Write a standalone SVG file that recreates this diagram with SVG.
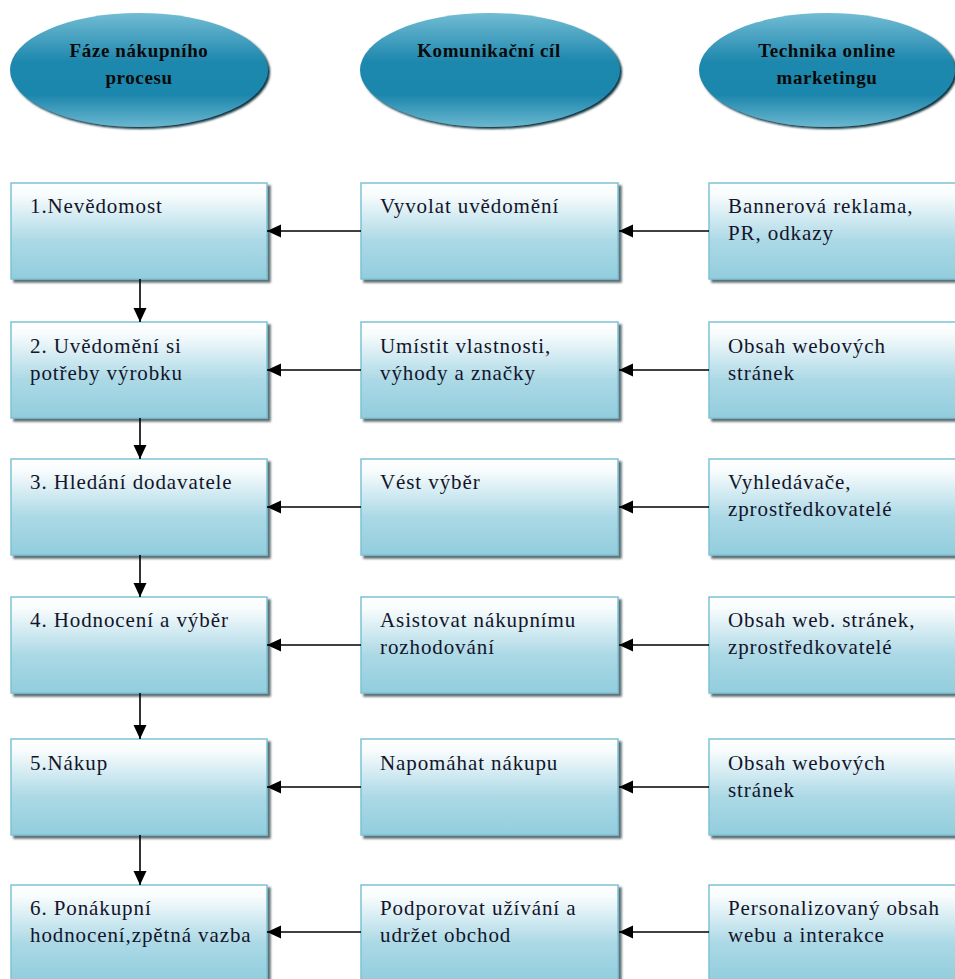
<svg xmlns="http://www.w3.org/2000/svg" width="955" height="979" viewBox="0 0 955 979">
<defs>
<linearGradient id="boxg" x1="0" y1="0" x2="0" y2="1">
<stop offset="0" stop-color="#ffffff"/>
<stop offset="0.12" stop-color="#f8fcfd"/>
<stop offset="0.6" stop-color="#acd9e6"/>
<stop offset="1" stop-color="#92cddd"/>
</linearGradient>
<linearGradient id="ellg" x1="0" y1="0" x2="0" y2="1">
<stop offset="0" stop-color="#72bcd3"/>
<stop offset="0.42" stop-color="#1f88ae"/>
<stop offset="0.72" stop-color="#1e87ad"/>
<stop offset="1" stop-color="#6ab7cf"/>
</linearGradient>
<filter id="shadow" x="-5%" y="-5%" width="115%" height="120%">
<feGaussianBlur in="SourceAlpha" stdDeviation="0.8"/>
<feOffset dx="3" dy="3" result="b"/>
<feFlood flood-color="#55666c" flood-opacity="0.95"/>
<feComposite in2="b" operator="in" result="s"/>
<feMerge><feMergeNode in="s"/><feMergeNode in="SourceGraphic"/></feMerge>
</filter>
<filter id="eshadow" x="-5%" y="-5%" width="115%" height="120%">
<feGaussianBlur in="SourceAlpha" stdDeviation="0.8"/>
<feOffset dx="2" dy="2" result="b"/>
<feFlood flood-color="#0a2f3c" flood-opacity="1"/>
<feComposite in2="b" operator="in" result="s"/>
<feMerge><feMergeNode in="s"/><feMergeNode in="SourceGraphic"/></feMerge>
</filter>
<marker id="ah" markerUnits="userSpaceOnUse" markerWidth="15" markerHeight="14" refX="14" refY="6.5" orient="auto">
<path d="M0,0 L14,6.5 L0,13 z" fill="#000"/>
</marker>
</defs>
<style>
.box{fill:url(#boxg);stroke:#7ec2d5;stroke-width:1.5}
.ell{fill:url(#ellg)}
.t{font-family:"Liberation Serif","Times New Roman",serif;font-size:21px;letter-spacing:0.9px;fill:#14142a}
.h{font-family:"Liberation Serif","Times New Roman",serif;font-size:19px;letter-spacing:0.6px;font-weight:bold;fill:#0a0a0a;text-anchor:middle}
.c{stroke:#000;stroke-width:1.6;fill:none;marker-end:url(#ah)}
</style>
<rect width="955" height="979" fill="#ffffff"/>

<g id="head1" filter="url(#eshadow)"><ellipse class="ell" cx="139" cy="70" rx="129" ry="57"/></g>
<text class="h" x="139" y="57">Fáze nákupního</text>
<text class="h" x="139" y="84">procesu</text>
<g id="head2" filter="url(#eshadow)"><ellipse class="ell" cx="490" cy="70" rx="130" ry="57"/></g>
<text class="h" x="489" y="57">Komunikační cíl</text>
<g id="head3" filter="url(#eshadow)"><ellipse class="ell" cx="827" cy="70" rx="128" ry="57"/></g>
<text class="h" x="827" y="57">Technika online</text>
<text class="h" x="827" y="84">marketingu</text>

<g id="a1" filter="url(#shadow)"><rect class="box" x="11" y="183" width="256" height="96"/></g>
<text class="t" x="30" y="213">1.Nevědomost</text>
<g id="b1" filter="url(#shadow)"><rect class="box" x="361" y="183" width="257" height="96"/></g>
<text class="t" x="380" y="213">Vyvolat uvědomění</text>
<g id="c1" filter="url(#shadow)"><rect class="box" x="709" y="183" width="256" height="96"/></g>
<text class="t" x="728" y="213">Bannerová reklama,</text>
<text class="t" x="728" y="240">PR, odkazy</text>

<g id="a2" filter="url(#shadow)"><rect class="box" x="11" y="322" width="256" height="96"/></g>
<text class="t" x="30" y="353">2. Uvědomění si</text>
<text class="t" x="30" y="380">potřeby výrobku</text>
<g id="b2" filter="url(#shadow)"><rect class="box" x="361" y="322" width="257" height="96"/></g>
<text class="t" x="380" y="353">Umístit vlastnosti,</text>
<text class="t" x="380" y="380">výhody a značky</text>
<g id="c2" filter="url(#shadow)"><rect class="box" x="709" y="322" width="256" height="96"/></g>
<text class="t" x="728" y="353">Obsah webových</text>
<text class="t" x="728" y="380">stránek</text>

<g id="a3" filter="url(#shadow)"><rect class="box" x="11" y="459" width="256" height="96"/></g>
<text class="t" x="30" y="489">3. Hledání dodavatele</text>
<g id="b3" filter="url(#shadow)"><rect class="box" x="361" y="459" width="257" height="96"/></g>
<text class="t" x="380" y="489">Vést výběr</text>
<g id="c3" filter="url(#shadow)"><rect class="box" x="709" y="459" width="256" height="96"/></g>
<text class="t" x="728" y="489">Vyhledávače,</text>
<text class="t" x="728" y="516">zprostředkovatelé</text>

<g id="a4" filter="url(#shadow)"><rect class="box" x="11" y="597" width="256" height="96"/></g>
<text class="t" x="30" y="627">4. Hodnocení a výběr</text>
<g id="b4" filter="url(#shadow)"><rect class="box" x="361" y="597" width="257" height="96"/></g>
<text class="t" x="380" y="627">Asistovat nákupnímu</text>
<text class="t" x="380" y="654">rozhodování</text>
<g id="c4" filter="url(#shadow)"><rect class="box" x="709" y="597" width="256" height="96"/></g>
<text class="t" x="728" y="627">Obsah web. stránek,</text>
<text class="t" x="728" y="654">zprostředkovatelé</text>

<g id="a5" filter="url(#shadow)"><rect class="box" x="11" y="739" width="256" height="96"/></g>
<text class="t" x="30" y="770">5.Nákup</text>
<g id="b5" filter="url(#shadow)"><rect class="box" x="361" y="739" width="257" height="96"/></g>
<text class="t" x="380" y="770">Napomáhat nákupu</text>
<g id="c5" filter="url(#shadow)"><rect class="box" x="709" y="739" width="256" height="96"/></g>
<text class="t" x="728" y="770">Obsah webových</text>
<text class="t" x="728" y="797">stránek</text>

<g id="a6" filter="url(#shadow)"><rect class="box" x="11" y="885" width="256" height="96"/></g>
<text class="t" x="30" y="915">6. Ponákupní</text>
<text class="t" x="30" y="942">hodnocení,zpětná vazba</text>
<g id="b6" filter="url(#shadow)"><rect class="box" x="361" y="885" width="257" height="96"/></g>
<text class="t" x="380" y="915">Podporovat užívání a</text>
<text class="t" x="380" y="942">udržet obchod</text>
<g id="c6" filter="url(#shadow)"><rect class="box" x="709" y="885" width="256" height="96"/></g>
<text class="t" x="728" y="915">Personalizovaný obsah</text>
<text class="t" x="728" y="942">webu a interakce</text>

<g id="connectors">
<line class="c" x1="361" y1="231" x2="267" y2="231"/>
<line class="c" x1="709" y1="231" x2="619" y2="231"/>
<line class="c" x1="361" y1="370" x2="267" y2="370"/>
<line class="c" x1="709" y1="370" x2="619" y2="370"/>
<line class="c" x1="361" y1="507" x2="267" y2="507"/>
<line class="c" x1="709" y1="507" x2="619" y2="507"/>
<line class="c" x1="361" y1="645" x2="267" y2="645"/>
<line class="c" x1="709" y1="645" x2="619" y2="645"/>
<line class="c" x1="361" y1="787" x2="267" y2="787"/>
<line class="c" x1="709" y1="787" x2="619" y2="787"/>
<line class="c" x1="361" y1="932" x2="267" y2="932"/>
<line class="c" x1="709" y1="932" x2="619" y2="932"/>
<line class="c" x1="140" y1="279" x2="140" y2="322"/>
<line class="c" x1="140" y1="418" x2="140" y2="459"/>
<line class="c" x1="140" y1="555" x2="140" y2="597"/>
<line class="c" x1="140" y1="693" x2="140" y2="739"/>
<line class="c" x1="140" y1="835" x2="140" y2="885"/>
</g>
</svg>
